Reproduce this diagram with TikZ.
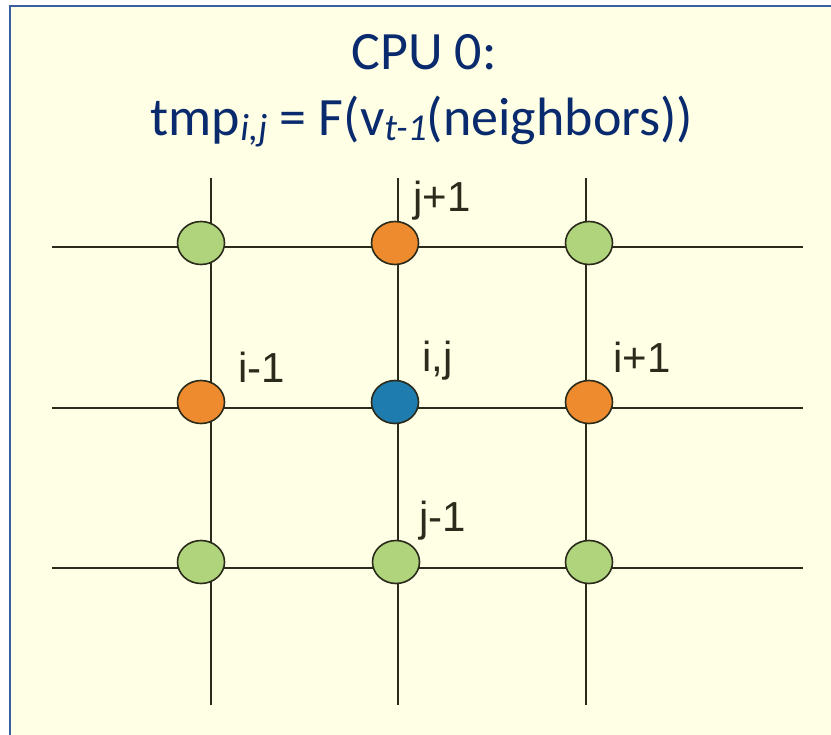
\documentclass[tikz,border=0pt]{standalone}
\usepackage{fontspec}
\setmainfont{Carlito}
\newfontfamily\lblfont{Liberation Sans}
\usetikzlibrary{shapes.geometric}
\definecolor{bgyellow}{HTML}{FFFFE6}
\definecolor{framblue}{HTML}{3A5FA0}
\definecolor{titleblue}{HTML}{0A2A6E}
\definecolor{gridline}{HTML}{2B2B1B}
\definecolor{ngreen}{HTML}{B0D47C}
\definecolor{norange}{HTML}{EE8B2E}
\definecolor{nblue}{HTML}{1F7CAE}
\tikzset{
  gridl/.style={draw=gridline, line width=1.4pt},
  pt/.style={ellipse, draw=gridline, line width=1.6pt, minimum width=47pt, minimum height=43pt, inner sep=0pt},
  lbl/.style={font=\lblfont\fontsize{42}{50}\selectfont, text=gridline, anchor=base west, inner sep=0pt},
  ttl/.style={font=\fontsize{54}{64}\selectfont, text=titleblue, anchor=base, inner sep=0pt}
}
\newcommand{\mysub}[1]{\raisebox{-5pt}{\fontsize{38}{44}\selectfont\itshape #1}}
\begin{document}
\begin{tikzpicture}[x=1pt,y=-1pt]
\useasboundingbox (0,0) rectangle (831,735);
\fill[white] (0,0) rectangle (831,735);
\fill[bgyellow] (10,6) rectangle (831,735);
\draw[framblue, line width=2.5pt] (10,740) -- (10,6) -- (840,6);
% title
\node[ttl] (t1) at (424,70) {CPU 0:};
\node[ttl] (t2) at (422,136) {tmp\mysub{i,j} = F(v\mysub{t-1}(neighbors))};
% grid line end coordinates
\coordinate (hl1) at (52,247); \coordinate (hr1) at (803,247);
\coordinate (hl2) at (52,408); \coordinate (hr2) at (803,408);
\coordinate (hl3) at (52,568); \coordinate (hr3) at (803,568);
\coordinate (vt1) at (211,178); \coordinate (vb1) at (211,705);
\coordinate (vt2) at (398,178); \coordinate (vb2) at (398,705);
\coordinate (vt3) at (586,178); \coordinate (vb3) at (586,705);
\draw[gridl] (hl1) -- (hr1);
\draw[gridl] (hl2) -- (hr2);
\draw[gridl] (hl3) -- (hr3);
\draw[gridl] (vt1) -- (vb1);
\draw[gridl] (vt2) -- (vb2);
\draw[gridl] (vt3) -- (vb3);
% nodes
\node[pt, fill=ngreen]  (n11) at (201,243) {};
\node[pt, fill=norange] (n21) at (395,243) {};
\node[pt, fill=ngreen]  (n31) at (589,243) {};
\node[pt, fill=norange] (n12) at (201,402) {};
\node[pt, fill=nblue]   (n22) at (395,402) {};
\node[pt, fill=norange] (n32) at (589,402) {};
\node[pt, fill=ngreen]  (n13) at (201,562) {};
\node[pt, fill=ngreen]  (n23) at (396,562) {};
\node[pt, fill=ngreen]  (n33) at (589,562) {};
% labels
\node[lbl] (ljp) at (413,212) {j+1};
\node[lbl] (lim) at (238,383) {i-1};
\node[lbl] (lij) at (422,372) {i,j};
\node[lbl] (lip) at (613,373) {i+1};
\node[lbl] (ljm) at (419,532) {j-1};
\end{tikzpicture}
\end{document}
